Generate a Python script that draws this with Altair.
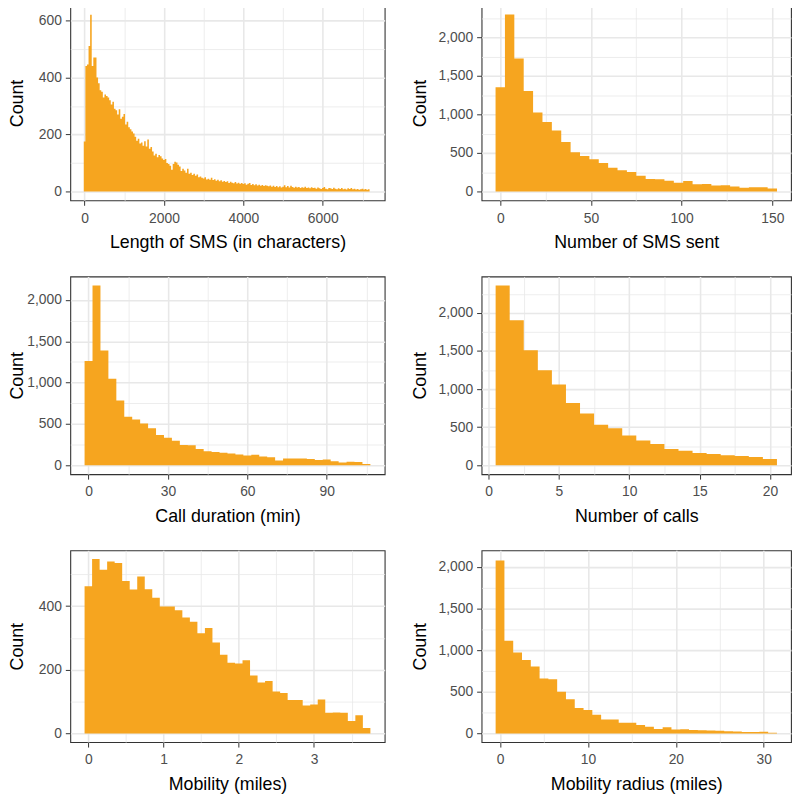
import json
import altair as alt
import pandas as pd

FILL = "#F6A51F"
FONT = "Liberation Sans"

# ---------------- data (histogram counts) ----------------
sms_len_start, sms_len_width = -20, 40
sms_len_counts = [
    175, 440, 445, 510, 620, 440, 470, 470, 400, 380, 355, 350, 330, 340, 335, 330, 320, 305, 315, 290,
    285, 270, 288, 255, 262, 272, 235, 245, 225, 218, 210, 203, 192, 178, 185, 168, 172, 160, 176, 158,
    182, 150, 156, 140, 126, 132, 120, 128, 124, 116, 110, 114, 100, 96, 90, 76, 96, 104, 102, 94,
    88, 72, 80, 74, 66, 80, 62, 66, 58, 62, 55, 60, 50, 53, 48, 46, 50, 42, 45, 41,
    48, 40, 43, 38, 41, 36, 39, 34, 37, 33, 36, 30, 34, 31, 29, 33, 28, 31, 27, 30,
    26, 29, 24, 27, 30, 23, 26, 22, 25, 21, 24, 20, 23, 19, 22, 20, 18, 21, 17, 20,
    16, 19, 15, 18, 14, 17, 22, 15, 19, 14, 20, 16, 13, 17, 14, 16, 12, 15, 13, 17,
    12, 14, 11, 15, 12, 13, 10, 14, 11, 9, 12, 16, 10, 8, 12, 11, 9, 13, 10, 8,
    11, 9, 12, 8, 10, 7, 11, 9, 12, 8, 10, 7, 9, 6, 8, 10, 7, 9, 6, 8,
]

sms_num_start, sms_num_width = -2.586, 5.1724
sms_num_counts = [1353, 2296, 1725, 1302, 1023, 900, 791, 643, 507, 461, 419, 368, 309, 275, 254,
                  203, 162, 158, 140, 114, 135, 93, 97, 76, 80, 63, 47, 55, 55, 40]

call_dur_start, call_dur_width = -1.5, 3
call_dur_counts = [1260, 2176, 1388, 1047, 784, 587, 554, 505, 447, 365, 333, 296, 245, 240, 197, 170,
                   160, 150, 140, 128, 118, 125, 105, 95, 58, 80, 82, 80, 76, 62, 68, 48, 33, 42, 40, 15]

calls_start, calls_width = 0.5, 1
calls_counts = [2361, 1904, 1509, 1248, 1061, 817, 678, 530, 487, 391, 326, 278, 213, 191, 161,
                148, 130, 122, 109, 83]

mob_start, mob_width = -0.05, 0.1
mob_counts = [462, 548, 514, 540, 535, 479, 452, 493, 453, 426, 399, 399, 387, 364, 351, 315, 331, 286,
              247, 222, 220, 230, 182, 160, 165, 132, 127, 105, 105, 88, 91, 107, 65, 66, 65, 39, 57, 17]

rad_start, rad_width = -0.5, 1
rad_counts = [2078, 1114, 973, 882, 804, 659, 651, 502, 412, 306, 282, 224, 169, 169, 129, 129, 102,
              82, 55, 75, 47, 51, 43, 39, 35, 31, 27, 24, 16, 16, 20, 8]


def axis(major, minor, fmt, title, **kw):
    test = f"indexof({json.dumps(major)}, datum.value) >= 0"
    return alt.Axis(
        values=sorted(major + minor),
        title=title,
        labelExpr=f"({test}) ? format(datum.value, '{fmt}') : ''",
        gridWidth={"condition": {"test": test, "value": 1.6}, "value": 0.8},
        tickOpacity={"condition": {"test": test, "value": 1}, "value": 0},
        labelOverlap=False,
        labelFlush=False,
        **kw,
    )


def panel(counts, start, width, xtitle, xmaj, xmin, xdom, xfmt, ymaj, ymin, ydom, yfmt,
          w, h, right):
    # histogram outline as a step area: left edge of every bin, plus the right edge of the last bin
    edges = [round(start + i * width, 6) for i in range(len(counts) + 1)]
    df = pd.DataFrame({"edge": edges, "count": list(counts) + [counts[-1]]})
    if right:
        yext = dict(minExtent=44, maxExtent=44, titlePadding=9)
    else:
        yext = dict(minExtent=44, maxExtent=44, titlePadding=0)
    return (
        alt.Chart(df)
        .mark_area(interpolate="step-after", color=FILL, opacity=1)
        .encode(
            x=alt.X("edge:Q", scale=alt.Scale(domain=xdom, nice=False, zero=False),
                    axis=axis(xmaj, xmin, xfmt, xtitle)),
            y=alt.Y("count:Q", scale=alt.Scale(domain=ydom, nice=False, zero=False),
                    axis=axis(ymaj, ymin, yfmt, "Count", **yext)),
            y2=alt.datum(0),
        )
        .properties(width=w, height=h)
    )


LW, RW = 318, 313
p1 = panel(sms_len_counts, sms_len_start, sms_len_width, "Length of SMS (in characters)",
           [0, 2000, 4000, 6000], [1000, 3000, 5000, 7000], [-360, 7560], "d",
           [0, 200, 400, 600], [100, 300, 500], [-31, 652], ",", LW, 197, False)
p2 = panel(sms_num_counts, sms_num_start, sms_num_width, "Number of SMS sent",
           [0, 50, 100, 150], [25, 75, 125], [-10.3, 160.3], "d",
           [0, 500, 1000, 1500, 2000], [250, 750, 1250, 1750, 2250], [-115, 2411], ",", RW, 197, True)
p3 = panel(call_dur_counts, call_dur_start, call_dur_width, "Call duration (min)",
           [0, 30, 60, 90], [15, 45, 75, 105], [-6.9, 111.9], "d",
           [0, 500, 1000, 1500, 2000], [250, 750, 1250, 1750], [-109, 2285], ",", LW, 200, False)
p4 = panel(calls_counts, calls_start, calls_width, "Number of calls",
           [0, 5, 10, 15, 20], [2.5, 7.5, 12.5, 17.5], [-0.5, 21.5], "d",
           [0, 500, 1000, 1500, 2000], [250, 750, 1250, 1750, 2250], [-118, 2479], ",", RW, 200, True)
p5 = panel(mob_counts, mob_start, mob_width, "Mobility (miles)",
           [0, 1, 2, 3], [0.5, 1.5, 2.5, 3.5], [-0.24, 3.94], "d",
           [0, 200, 400], [100, 300, 500], [-27, 575], ",", LW, 194, False)
p6 = panel(rad_counts, rad_start, rad_width, "Mobility radius (miles)",
           [0, 10, 20, 30], [5, 15, 25], [-2.1, 33.1], "d",
           [0, 500, 1000, 1500, 2000], [250, 750, 1250, 1750], [-104, 2200], ",", RW, 194, True)

rows = [alt.hconcat(a, b, spacing=25) for a, b in [(p1, p2), (p3, p4), (p5, p6)]]

chart = (
    alt.vconcat(*rows, spacing=23)
    .properties(padding={"top": -8, "left": 0, "right": 0, "bottom": 0})
    .configure_view(stroke="#333333", strokeWidth=1.1)
    .configure_axis(
        domain=False,
        labelFont=FONT, titleFont=FONT,
        labelColor="#4D4D4D", labelFontSize=14,
        titleFontSize=18, titleFontWeight="normal", titleColor="#000000",
        tickColor="#333333", tickSize=5, tickWidth=1, labelPadding=4,
        gridColor="#E8E8E8",
    )
    .configure_axisX(titlePadding=9, labelPadding=6)
)

chart.save("out.html", embed_options={"renderer": "svg", "actions": False})
